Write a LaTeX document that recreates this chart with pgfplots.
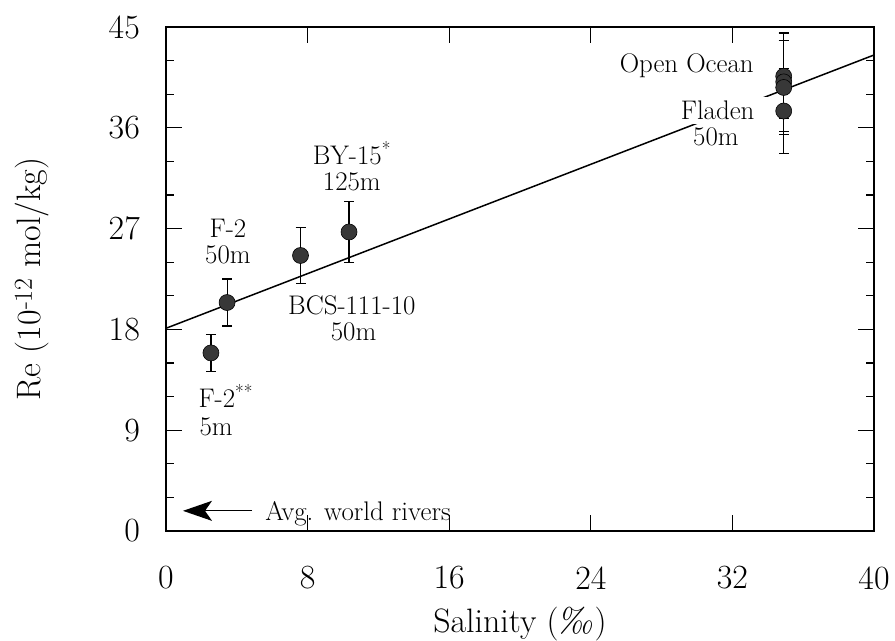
\documentclass[border=0pt]{standalone}
\usepackage{pgfplots}
\usepackage{pgfplotstable}
\pgfplotsset{compat=1.18}
\usetikzlibrary{arrows.meta}

% Re concentration vs. salinity: x, y, symmetric error
\pgfplotstableread{
x     y     e
2.54  15.9  1.65
3.45  20.4  2.1
7.6   24.6  2.5
10.34 26.7  2.7
34.9  40.6  3.8
34.9  40.1  4.4
34.9  39.6  4.2
34.9  37.5  3.8
}\redata

\newcommand\annot{\fontsize{27}{32}\selectfont}

\begin{document}
\begin{tikzpicture}
\begin{axis}[
  scale only axis, width=708bp, height=504bp,
  xmin=0, xmax=40, ymin=0, ymax=45,
  xtick={0,8,...,40}, ytick={0,9,...,45},
  minor ytick={3,6,12,15,21,24,30,33,39,42},
  tick align=inside, xtick pos=both, ytick pos=both,
  xticklabel pos=left, yticklabel pos=left,
  major tick length=16bp, minor tick length=8bp,
  axis line style={line width=1.8bp},
  every tick/.style={black, line width=1.3bp},
  /pgf/number format/assume math mode=true,
  ticklabel style={font=\fontsize{34}{40}\selectfont},
  xticklabel style={anchor=center, yshift=-47bp},
  yticklabel style={anchor=east, inner sep=0pt, xshift=-26bp},
  xlabel={Salinity ({\itshape\textperthousand})},
  ylabel={Re (10\textsuperscript{\fontsize{26}{30}\selectfont -12} mol/kg)},
  label style={font=\fontsize{34}{40}\selectfont},
  xlabel style={at={(axis description cs:0.5,0)}, anchor=base, yshift=-101bp},
  ylabel style={at={([xshift=-134bp]axis description cs:0,0.5)}, anchor=center},
  clip=false,
]
% least-squares fit
\addplot[black, line width=1.5bp] coordinates {(0,18.1) (40,42.5)};

% sample labels
\node[anchor=base east, font=\annot] at (axis cs:33.4,40.9) {Open Ocean};
\node[anchor=base east, font=\annot, fill=white, inner xsep=14bp, inner ysep=4bp] at (axis cs:34.05,36.7) {Fladen};
\node[anchor=base east, font=\annot] at (axis cs:32.55,34.46) {50m};
\node[anchor=base, font=\annot] at (axis cs:10.5,32.7) {BY-15\textsuperscript{*}};
\node[anchor=base, font=\annot] at (axis cs:10.5,30.4) {125m};
\node[anchor=base, font=\annot] at (axis cs:3.5,26.2) {F-2};
\node[anchor=base, font=\annot] at (axis cs:3.5,23.9) {50m};
\node[anchor=base, font=\annot] at (axis cs:10.5,19.3) {BCS-111-10};
\node[anchor=base, font=\annot] at (axis cs:10.6,17.05) {50m};
\node[anchor=base west, font=\annot] at (axis cs:1.64,11.0) {F-2\textsuperscript{**}};
\node[anchor=base west, font=\annot] at (axis cs:1.7,8.5) {5m};
\node[anchor=base west, font=\annot] at (axis cs:5.42,0.98) {Avg. world rivers};
\draw[line width=1.3bp, -{Stealth[length=29bp, width=20bp, inset=7bp]}]
  (axis cs:4.86,1.8) -- (axis cs:0.96,1.8);

% measurements with error bars
\addplot[only marks, mark=*, mark size=8bp,
  mark options={fill=black!78, draw=black, line width=0.6bp},
  error bars/.cd, y dir=both, y explicit,
  error bar style={line width=1.1bp, black},
  error mark options={rotate=90, mark size=5bp, line width=1.1bp, black}]
  table[x=x, y=y, y error=e] {\redata};
\end{axis}
\pgfresetboundingbox
\path ([shift={(-166bp,-110bp)}]current axis.south west) rectangle ++(895bp,641bp);
\end{tikzpicture}
\end{document}
